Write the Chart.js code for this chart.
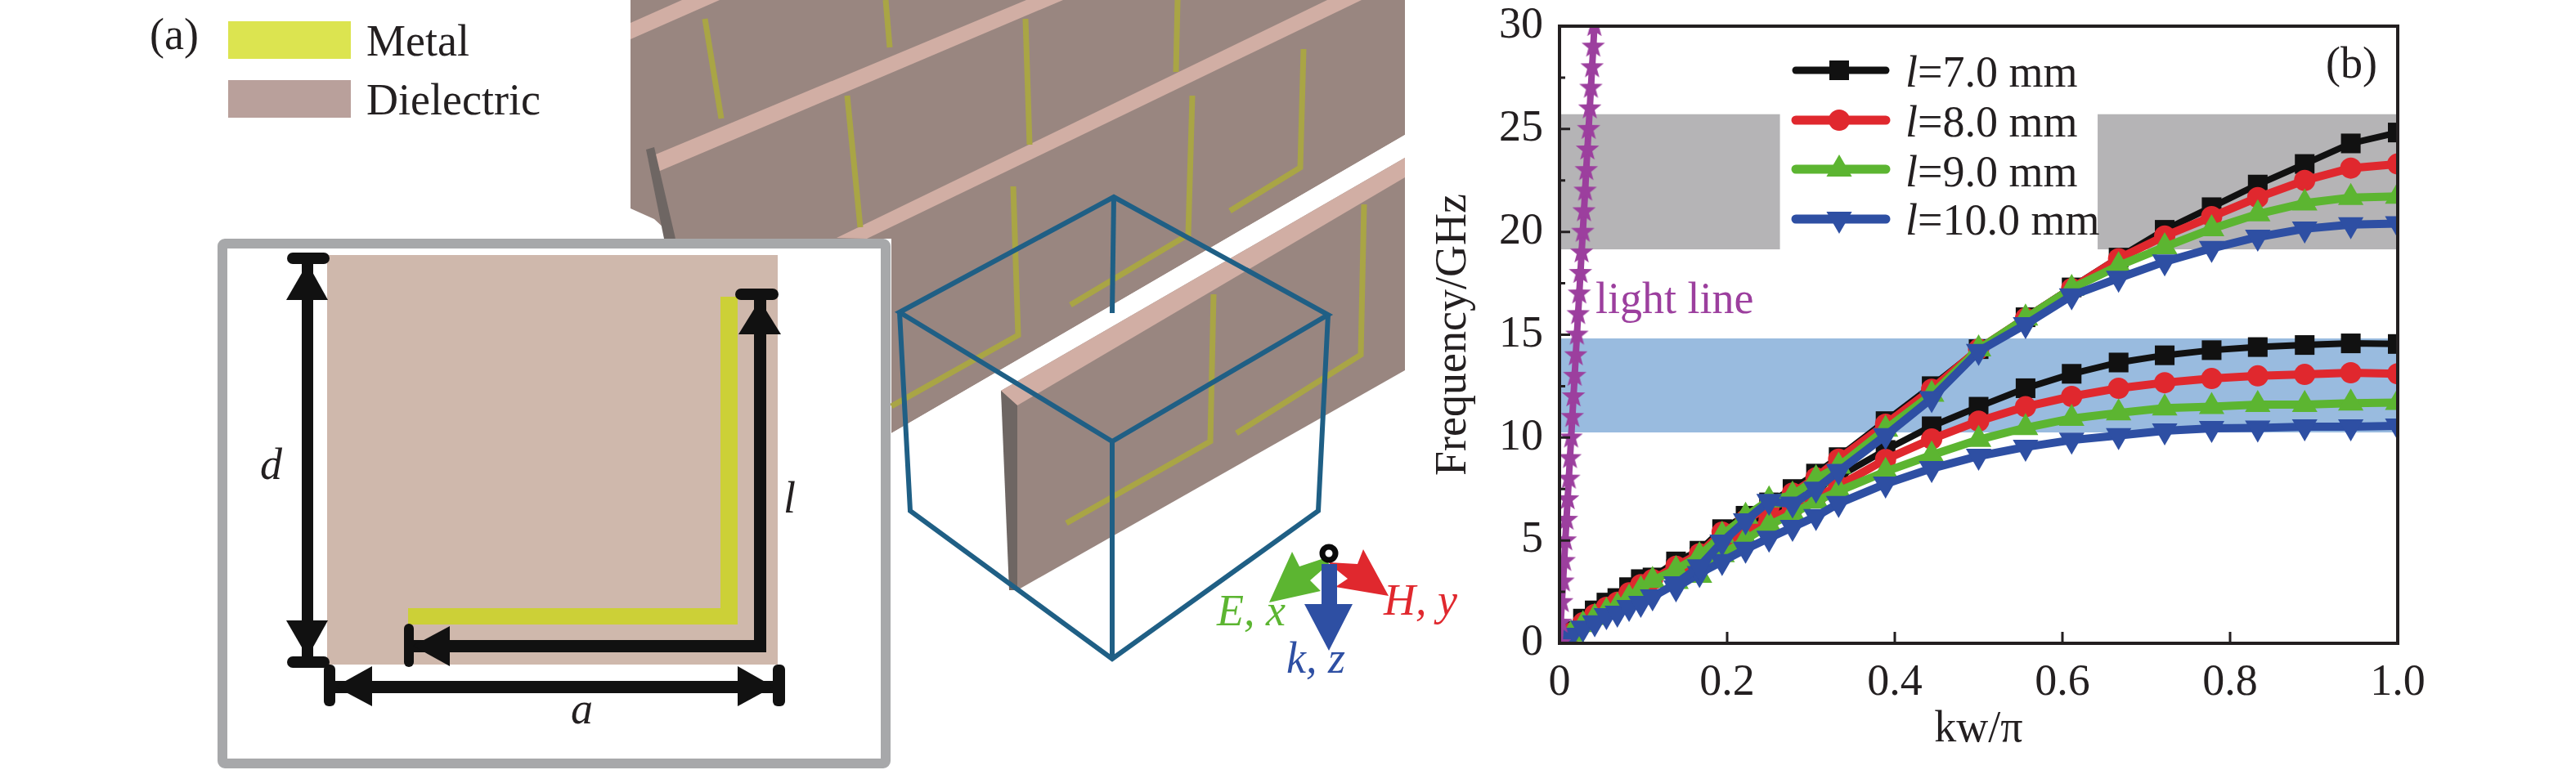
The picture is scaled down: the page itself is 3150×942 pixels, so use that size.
<!DOCTYPE html>
<html><head><meta charset="utf-8">
<style>
html,body{margin:0;padding:0;background:#fff;width:3150px;height:942px;overflow:hidden}
#art{position:absolute;left:0;top:0}
#c{position:absolute;left:0;top:0}
svg text{font-family:"Liberation Serif",serif;font-size:54px;fill:#231f20}
svg text.i{font-style:italic}
</style>
<script src="https://cdn.jsdelivr.net/npm/chart.js@4"></script>
</head><body>
<svg id="art" width="3150" height="942" viewBox="0 0 3150 942">
  <!-- 3D scene -->
  <polygon points="771,0 1718,0 1718,165 1090,530 1090,292 826,292 800,268 771,255" fill="#998680"/>
  <polygon points="771,28 834,0 880,0 771,48" fill="#d1aea4"/>
  <polygon points="792,193 1255,0 1300,0 800,212" fill="#d1aea4"/>
  <polygon points="1023,291 1623,0 1665,0 1060,292" fill="#d1aea4"/>
  <polygon points="790,183 800,180 826,292 812,292" fill="#6e6663"/>
  <polygon points="1090,530 1718,165 1718,195 1224,478 1090,560" fill="#ffffff"/>
  <polygon points="1224,478 1718,193 1718,453 1244,722" fill="#998680"/>
  <polygon points="1224,478 1718,193 1718,217 1244,496" fill="#d1aea4"/>
  <polygon points="1224,478 1244,496 1244,722 1234,722" fill="#6e6663"/>
  <g fill="none" stroke="#a9a545" stroke-width="7">
    <path d="M862,23 L882,145"/><path d="M1083,0 L1088,58"/>
    <path d="M1036,117 L1052,278"/><path d="M1254,23 L1259,177"/>
    <path d="M1440,0 L1438,88"/>
    <path d="M1458,117 L1453,287 L1309,373"/>
    <path d="M1239,228 L1245,410 L1090,497"/>
    <path d="M1594,60 L1590,205 L1504,258"/>
    <path d="M1484,360 L1480,540 L1304,640"/>
    <path d="M1668,250 L1664,434 L1512,530"/>
  </g>
  <g fill="none" stroke="#1f5f85" stroke-width="6">
    <path d="M1100,382 L1362,241 L1624,385 L1360,540 Z"/>
    <path d="M1362,241 L1360,383"/>
    <path d="M1100,382 L1113,625 L1360,806 L1612,625 L1624,385"/>
    <path d="M1360,540 L1360,806"/>
  </g>
  <!-- axes triad -->
  <polygon points="1622,682 1589,693 1580,675 1552,737 1615,723 1602,710 1625,690" fill="#5cb531"/>
  <polygon points="1625,688 1660,690 1667,672 1698,729 1633,718 1648,708 1628,692" fill="#e0282e"/>
  <polygon points="1616,690 1635,690 1635,739 1654,739 1625,796 1595,739 1616,739" fill="#2e4fa3"/>
  <circle cx="1625" cy="677" r="8" fill="#fff" stroke="#0a0a0a" stroke-width="7"/>
  <text class="i" x="1488" y="765" style="fill:#5cb531">E, x</text>
  <text class="i" x="1692" y="752" style="fill:#e0282e">H, y</text>
  <text class="i" x="1573" y="823" style="fill:#2e4fa3">k, z</text>
  <!-- frame panel -->
  <rect x="272" y="298" width="811" height="636" rx="3" fill="#fff" stroke="#a7a8aa" stroke-width="12"/>
  <rect x="400" y="312" width="551" height="501" fill="#cfb8ac"/>
  <path d="M881,363 H902 V764 H499 V744 H881 Z" fill="#ccd037"/>
  <g fill="#111" stroke="none">
    <rect x="369" y="316" width="14" height="494"/>
    <rect x="351" y="309" width="52" height="14" rx="7"/>
    <rect x="351" y="803" width="52" height="14" rx="7"/>
    <polygon points="376,322 350,367 401,367"/>
    <polygon points="376,804 350,759 401,759"/>
    <rect x="922" y="360" width="15" height="437"/>
    <rect x="505" y="783" width="432" height="15"/>
    <rect x="899" y="353" width="53" height="14" rx="7"/>
    <polygon points="929,367 903,409 955,409"/>
    <rect x="494" y="763" width="12" height="53" rx="6"/>
    <polygon points="505,790 550,766 550,815"/>
    <rect x="403" y="833" width="550" height="15"/>
    <rect x="396" y="813" width="14" height="51" rx="6"/>
    <rect x="945" y="813" width="15" height="51" rx="6"/>
    <polygon points="410,840 455,815 455,864"/>
    <polygon points="946,840 902,815 902,864"/>
  </g>
  <text class="i" x="318" y="586">d</text>
  <text class="i" x="958" y="627">l</text>
  <text class="i" x="698" y="885">a</text>
  <!-- legend (a) -->
  <text x="183" y="60">(a)</text>
  <rect x="279" y="26" width="150" height="46" fill="#dce450"/>
  <rect x="279" y="98" width="150" height="46" fill="#b9a09b"/>
  <text x="448" y="68">Metal</text>
  <text x="448" y="140">Dielectric</text>
</svg>
<canvas id="c" width="3150" height="942"></canvas>
<script>
const kwUpper=[0,.014,.028,.042,.056,.069,.083,.097,.111,.139,.167,.194,.222,.25,.278,.306,.333,.389,.444,.5,.556,.611,.667,.722,.778,.833,.889,.944,1];
const kwLower=[.139,.167,.194,.222,.25,.278,.306,.333,.389,.444,.5,.556,.611,.667,.722,.778,.833,.889,.944,1];
const l7Upper=[0,.6,1.2,1.6,1.98,2.2,2.73,3.12,3.2,3.98,4.5,5.55,6.2,6.85,7.5,8.25,9.05,10.8,12.5,14.3,15.85,17.3,18.75,20.1,21.2,22.3,23.3,24.3,24.83];
const l8Upper=[0,.5,1,1.4,1.75,2,2.45,2.85,3.1,3.75,4.35,5.4,6,6.65,7.3,8.05,8.95,10.65,12.35,14.3,15.8,17.25,18.7,19.8,20.74,21.67,22.5,23.1,23.3];
const l9Upper=[0,.45,.9,1.25,1.55,1.8,2.2,2.6,3.05,3.58,4.25,5.25,6.17,6.96,7.2,8,8.6,10.4,12.1,14.3,15.8,17.25,18.35,19.27,20.15,20.87,21.4,21.67,21.73];
const l10Upper=[0,.4,.75,1,1.35,1.47,1.75,1.95,2.26,2.9,3.73,4.93,5.96,6.9,6.77,7.5,8.36,10.1,11.9,14.2,15.5,16.9,17.75,18.55,19.2,19.75,20.15,20.35,20.4];
const l7Lower=[3.6,4.2,5,5.65,6.3,6.85,7.5,8.1,9.4,10.55,11.5,12.4,13.1,13.65,14,14.25,14.4,14.5,14.58,14.55];
const l8Lower=[3.4,4.1,4.75,5.4,6,6.55,7.1,7.65,8.94,9.93,10.8,11.5,12,12.4,12.67,12.87,13,13.07,13.15,13.1];
const l9Lower=[3,3.3,4.3,5.05,5.75,6.3,6.9,7.4,8.35,9.15,9.9,10.48,10.93,11.2,11.43,11.5,11.6,11.6,11.67,11.7];
const l10Lower=[2.7,3.4,3.98,4.58,5.12,5.64,6.17,6.8,7.75,8.5,9.1,9.54,9.88,10.1,10.33,10.45,10.47,10.53,10.53,10.57];
const kwLight=[0,.0014,.0028,.0042,.0056,.0069,.0083,.0097,.0111,.0125,.0139,.0153,.0167,.0181,.0194,.0208,.0222,.0236,.025,.0264,.0278,.0292,.0306,.0319,.0333,.0347,.0361,.0375,.0389,.0403,.0416];
const freqLight=[0,1,2,3,4,5,6,7,8,9,10,11,12,13,14,15,16,17,18,19,20,21,22,23,24,25,26,27,28,29,30];
const legendLabels=["=7.0 mm","=8.0 mm","=9.0 mm","=10.0 mm"];
const xTicks=[0,.2,.4,.6,.8,1];
const yTicks=[0,5,10,15,20,25,30];
const yMinorTicks=[2.5,7.5,12.5,17.5,22.5,27.5];
const grayBands=[[0,.263,19.15,25.72],[.642,1,19.15,25.72]];
const blueBand=[0,1,10.25,14.82];

const FONT='"Liberation Serif", serif';
const INK='#231f20';
const BLACK='#111111',RED='#e0282e',GREEN='#5cb531',BLUE='#2e4fa3',PURPLE='#9c3f9e';

function starCanvas(color,R){
  const s=document.createElement('canvas');s.width=s.height=R*2+2;
  const g=s.getContext('2d');g.fillStyle=color;g.beginPath();
  for(let i=0;i<10;i++){
    const r=i%2?R*.42:R,a=-Math.PI/2+i*Math.PI/5;
    g.lineTo(R+1+r*Math.cos(a),R+1+r*Math.sin(a));
  }
  g.closePath();g.fill();return s;
}
const zip=(xs,ys)=>xs.map((x,i)=>({x,y:ys[i]}));
const styles=[
  {c:BLACK,w:8,style:'rect',r:17,rot:0},
  {c:RED,w:10,style:'circle',r:13,rot:0},
  {c:GREEN,w:10,style:'triangle',r:18,rot:0},
  {c:BLUE,w:10,style:'triangle',r:18,rot:180}
];
function series(s,xs,ys,label){
  return {label,data:zip(xs,ys),showLine:true,borderColor:s.c,backgroundColor:s.c,borderWidth:s.w,tension:0,
    pointStyle:s.style,pointRadius:s.r,pointRotation:s.rot,pointBorderWidth:0,pointBackgroundColor:s.c};
}
const datasets=[
  {label:'light line',data:zip(kwLight,freqLight),showLine:true,borderColor:PURPLE,borderWidth:8,
   pointStyle:starCanvas(PURPLE,15),pointRadius:15},
  series(styles[3],kwUpper,l10Upper,'l=10.0 mm'),series(styles[3],kwLower,l10Lower,'l=10.0 mm lower'),
  series(styles[2],kwUpper,l9Upper,'l=9.0 mm'),series(styles[2],kwLower,l9Lower,'l=9.0 mm lower'),
  series(styles[1],kwUpper,l8Upper,'l=8.0 mm'),series(styles[1],kwLower,l8Lower,'l=8.0 mm lower'),
  series(styles[0],kwUpper,l7Upper,'l=7.0 mm'),series(styles[0],kwLower,l7Lower,'l=7.0 mm lower')
];
const LEFT=1745,RIGHT=218,TOP=32,BOTTOM=17,PL=1907,PB=787;

const bandsPlugin={id:'bands',beforeDatasetsDraw(ch){
  const {ctx,scales:{x,y}}=ch;ctx.save();
  const box=(b,col)=>{ctx.fillStyle=col;
    const x0=x.getPixelForValue(b[0]),x1=x.getPixelForValue(b[1]),y0=y.getPixelForValue(b[3]),y1=y.getPixelForValue(b[2]);
    ctx.fillRect(x0,y0,x1-x0,y1-y0);};
  grayBands.forEach(b=>box(b,'#b5b4b6'));box(blueBand,'#99bbdf');ctx.restore();
}};
const framePlugin={id:'frame',afterDatasetsDraw(ch){
  const {ctx,chartArea:a,scales:{x,y}}=ch;ctx.save();
  ctx.strokeStyle=INK;ctx.lineWidth=4;ctx.strokeRect(a.left,a.top,a.right-a.left,a.bottom-a.top);
  ctx.lineWidth=3;ctx.beginPath();
  xTicks.slice(1,-1).forEach(v=>{const p=x.getPixelForValue(v);ctx.moveTo(p,a.bottom);ctx.lineTo(p,a.bottom-14);});
  yTicks.slice(1,-1).forEach(v=>{const p=y.getPixelForValue(v);ctx.moveTo(a.left,p);ctx.lineTo(a.left+13,p);});
  yMinorTicks.forEach(v=>{const p=y.getPixelForValue(v);ctx.moveTo(a.left,p);ctx.lineTo(a.left+7,p);});
  ctx.stroke();
  // panel letter and curve note
  ctx.textBaseline='alphabetic';ctx.textAlign='left';
  ctx.font='54px '+FONT;ctx.fillStyle=INK;ctx.fillText('(b)',2844,95);
  ctx.fillStyle=PURPLE;ctx.fillText('light line',1951,383);
  // legend
  const rows=[86,147,207,268],base=[106,167,228,287];
  styles.forEach((s,i)=>{
    ctx.strokeStyle=s.c;ctx.lineWidth=s.w+1;ctx.lineCap='round';ctx.beginPath();ctx.moveTo(2196,rows[i]);ctx.lineTo(2306,rows[i]);ctx.stroke();
    ctx.fillStyle=s.c;
    Chart.helpers.drawPoint(ctx,{pointStyle:s.style,radius:s.r,rotation:s.rot,borderWidth:0},2249,rows[i]);
    ctx.fillStyle=INK;ctx.font='italic 54px '+FONT;ctx.fillText('l',2330,base[i]);
    const w=ctx.measureText('l').width;
    ctx.font='54px '+FONT;ctx.fillText(legendLabels[i],2330+w,base[i]);
  });
  ctx.restore();
}};
new Chart(document.getElementById('c'),{
  type:'scatter',
  data:{datasets},
  plugins:[bandsPlugin,framePlugin],
  options:{
    responsive:false,animation:false,devicePixelRatio:1,
    layout:{padding:{left:LEFT,right:RIGHT,top:TOP,bottom:BOTTOM}},
    plugins:{legend:{display:false},tooltip:{enabled:false},title:{display:false}},
    scales:{
      x:{type:'linear',min:0,max:1,
        afterFit(s){s.height=942-BOTTOM-PB;s.paddingLeft=0;s.paddingRight=0;},
        afterBuildTicks(s){s.ticks=xTicks.map(value=>({value}));},
        grid:{display:false,drawTicks:false},border:{display:false},
        ticks:{color:INK,font:{family:FONT,size:54},padding:16,maxRotation:0,autoSkip:false,
          callback:v=>v===0?'0':Number(v).toFixed(1)},
        title:{display:true,text:'kw/π',color:INK,font:{family:FONT,size:54},padding:0}},
      y:{type:'linear',min:0,max:30,
        afterFit(s){s.width=PL-LEFT;s.paddingTop=0;s.paddingBottom=0;},
        afterBuildTicks(s){s.ticks=yTicks.map(value=>({value}));},
        grid:{display:false,drawTicks:false},border:{display:false},
        ticks:{color:INK,font:{family:FONT,size:54},padding:20,autoSkip:false,callback:v=>String(v)},
        title:{display:true,text:'Frequency/GHz',color:INK,font:{family:FONT,size:54},padding:0}}
    }
  }
});
</script>
</body></html>
